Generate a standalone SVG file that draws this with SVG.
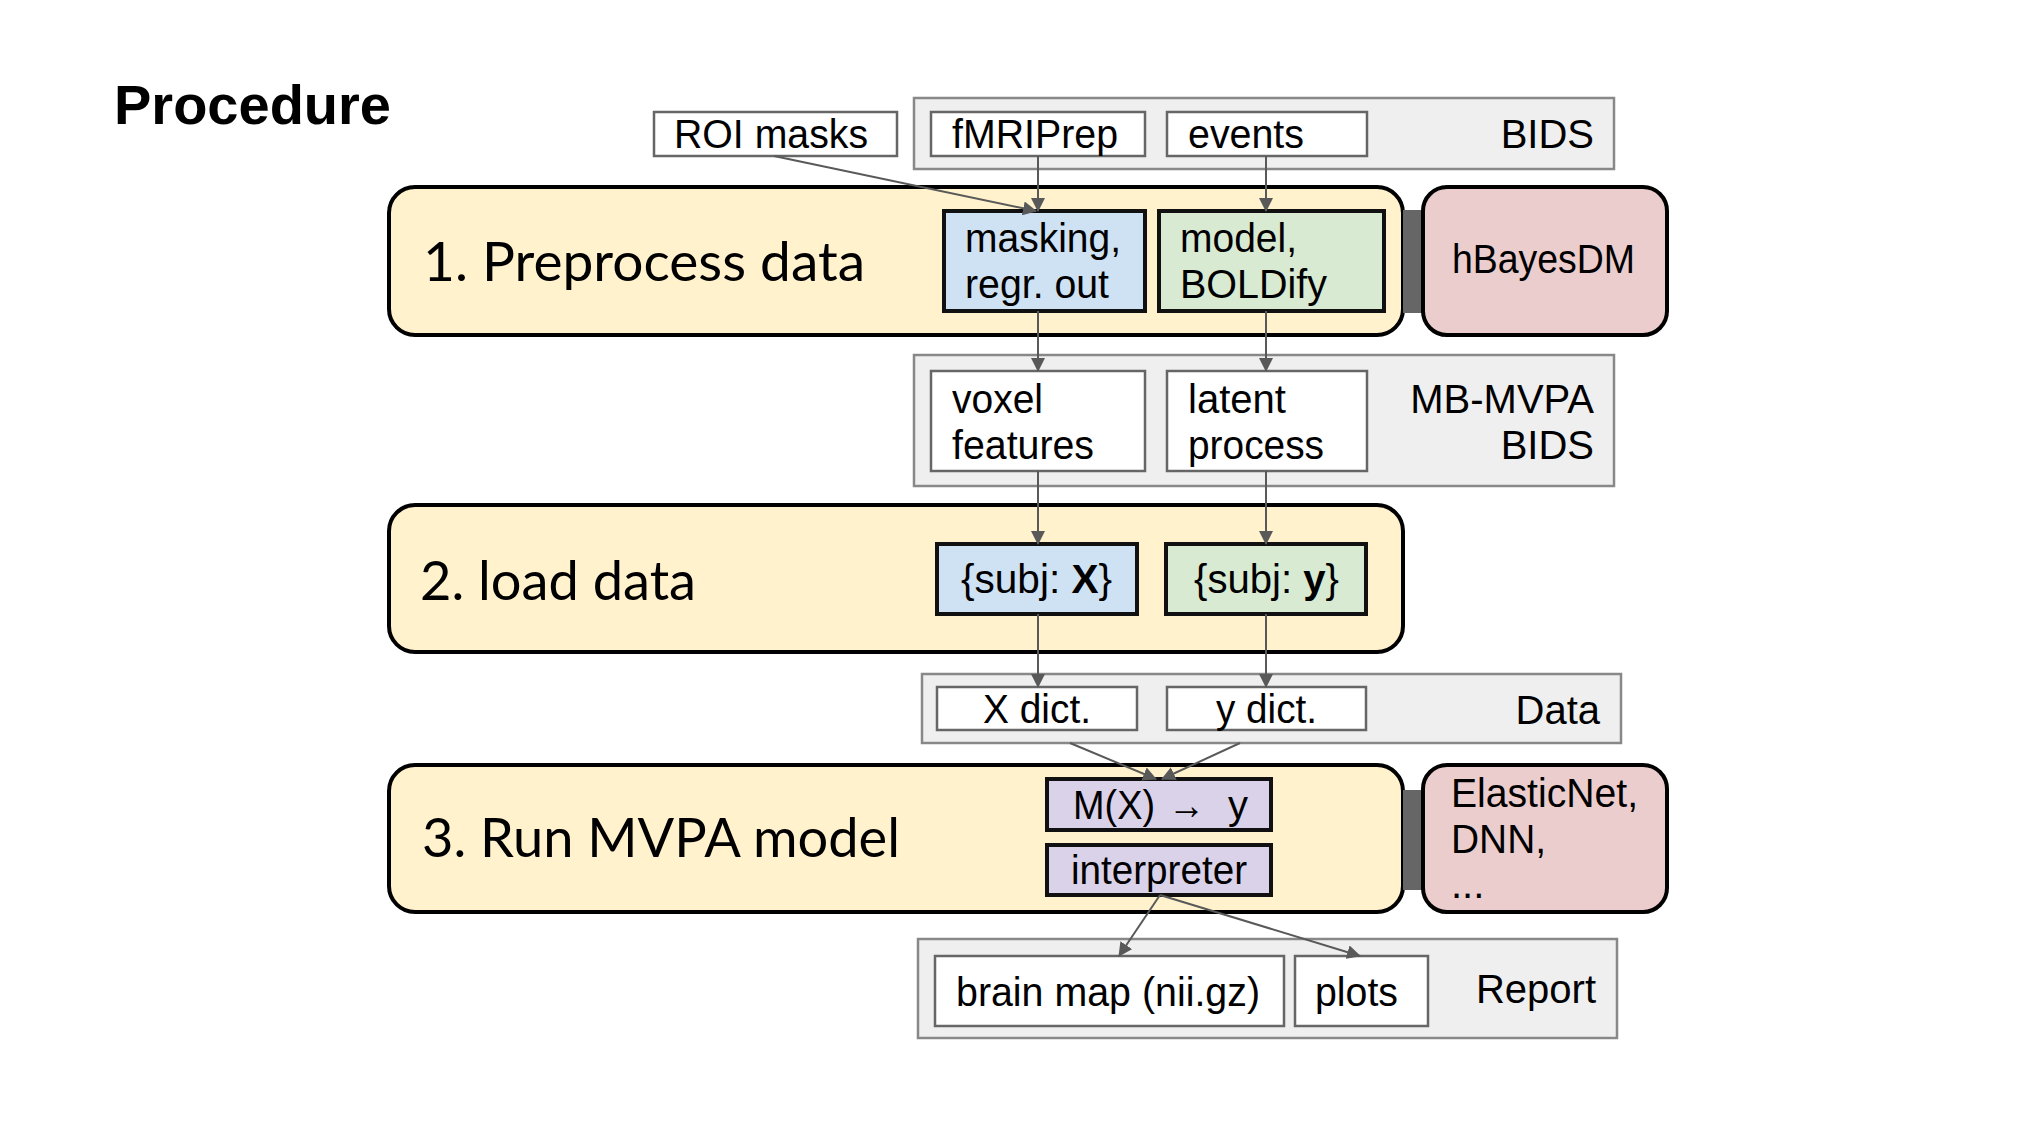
<svg xmlns="http://www.w3.org/2000/svg" width="2022" height="1132" viewBox="0 0 2022 1132">
<defs>
<marker id="ah" viewBox="0 0 14 14" refX="13" refY="7" markerWidth="14" markerHeight="14" markerUnits="userSpaceOnUse" orient="auto">
<path d="M0,0 L14,7 L0,14 Z" fill="#595959"/>
</marker>
<style>
.t{font-family:"Liberation Sans",Arial,sans-serif;font-size:40px;fill:#000}
.st{font-family:Lato,"Liberation Sans",sans-serif;font-size:55px;fill:#000}
.stage{fill:#fff2cc;stroke:#000;stroke-width:4}
.grp{fill:#efefef;stroke:#888;stroke-width:2.5}
.wb{fill:#fff;stroke:#666;stroke-width:2.5}
.blue{fill:#cfe2f3;stroke:#111;stroke-width:4}
.green{fill:#d9ead3;stroke:#111;stroke-width:4}
.purple{fill:#d9d2e9;stroke:#111;stroke-width:4}
.pink{fill:#eccdcd;stroke:#000;stroke-width:4}
.bar{fill:#666}
.c{stroke:#595959;stroke-width:2;fill:none;marker-end:url(#ah)}
</style>
</defs>
<rect width="2022" height="1132" fill="#fff"/>
<text x="114" y="124" font-family="Liberation Sans,Arial,sans-serif" font-weight="bold" font-size="56" fill="#000">Procedure</text>

<g id="roi-masks"><rect class="wb" x="654" y="112" width="243" height="44"/><text class="t" x="674" y="148" textLength="194" lengthAdjust="spacingAndGlyphs">ROI masks</text></g>

<g id="bids"><rect class="grp" x="914" y="98" width="700" height="71"/><text class="t" x="1594" y="148" text-anchor="end">BIDS</text>
<g id="fmriprep"><rect class="wb" x="931" y="112" width="214" height="44"/><text class="t" x="952" y="148" textLength="166" lengthAdjust="spacingAndGlyphs">fMRIPrep</text></g>
<g id="events"><rect class="wb" x="1167" y="112" width="200" height="44"/><text class="t" x="1188" y="148" textLength="116" lengthAdjust="spacingAndGlyphs">events</text></g>
</g>

<g id="stage1"><rect class="stage" x="389" y="187" width="1014" height="148" rx="26"/><text class="st" x="423" y="281" textLength="442" lengthAdjust="spacingAndGlyphs">1. Preprocess data</text>
<g id="masking"><rect class="blue" x="944" y="211" width="201" height="100"/><text class="t" x="965" y="252" textLength="156" lengthAdjust="spacingAndGlyphs">masking,</text><text class="t" x="965" y="298" textLength="144" lengthAdjust="spacingAndGlyphs">regr. out</text></g>
<g id="model"><rect class="green" x="1159" y="211" width="225" height="100"/><text class="t" x="1180" y="252" textLength="117" lengthAdjust="spacingAndGlyphs">model,</text><text class="t" x="1180" y="298" textLength="147" lengthAdjust="spacingAndGlyphs">BOLDify</text></g>
</g>
<rect class="bar" x="1403" y="210" width="20" height="103"/>
<g id="hbayesdm"><rect class="pink" x="1423" y="187" width="244" height="148" rx="24"/><text class="t" x="1452" y="273" textLength="183" lengthAdjust="spacingAndGlyphs">hBayesDM</text></g>

<g id="mbmvpa-bids"><rect class="grp" x="914" y="355" width="700" height="131"/><text class="t" x="1594" y="413" text-anchor="end">MB-MVPA</text><text class="t" x="1594" y="459" text-anchor="end">BIDS</text>
<g id="voxel"><rect class="wb" x="931" y="371" width="214" height="100"/><text class="t" x="952" y="413" textLength="91" lengthAdjust="spacingAndGlyphs">voxel</text><text class="t" x="952" y="459" textLength="142" lengthAdjust="spacingAndGlyphs">features</text></g>
<g id="latent"><rect class="wb" x="1167" y="371" width="200" height="100"/><text class="t" x="1188" y="413" textLength="98" lengthAdjust="spacingAndGlyphs">latent</text><text class="t" x="1188" y="459" textLength="136" lengthAdjust="spacingAndGlyphs">process</text></g>
</g>

<g id="stage2"><rect class="stage" x="389" y="505" width="1014" height="147" rx="26"/><text class="st" x="420" y="600" textLength="276" lengthAdjust="spacingAndGlyphs">2. load data</text>
<g id="subjX"><rect class="blue" x="937" y="544" width="200" height="70"/><text class="t" x="961" y="593" textLength="151" lengthAdjust="spacingAndGlyphs">{subj: <tspan font-weight="bold">X</tspan>}</text></g>
<g id="subjy"><rect class="green" x="1166" y="544" width="200" height="70"/><text class="t" x="1194" y="593" textLength="145" lengthAdjust="spacingAndGlyphs">{subj: <tspan font-weight="bold">y</tspan>}</text></g>
</g>

<g id="data"><rect class="grp" x="922" y="674" width="699" height="69"/><text class="t" x="1600" y="724" text-anchor="end">Data</text>
<g id="xdict"><rect class="wb" x="937" y="687" width="200" height="43"/><text class="t" x="983" y="723" textLength="108" lengthAdjust="spacingAndGlyphs">X dict.</text></g>
<g id="ydict"><rect class="wb" x="1167" y="687" width="199" height="43"/><text class="t" x="1216" y="723" textLength="101" lengthAdjust="spacingAndGlyphs">y dict.</text></g>
</g>

<g id="stage3"><rect class="stage" x="389" y="765" width="1014" height="147" rx="26"/><text class="st" x="422" y="857" textLength="478" lengthAdjust="spacingAndGlyphs">3. Run MVPA model</text>
<g id="mxy"><rect class="purple" x="1047" y="779" width="224" height="51"/><text class="t" y="819"><tspan x="1073" textLength="82" lengthAdjust="spacingAndGlyphs">M(X)</tspan><tspan x="1168" font-family="Liberation Serif,serif" font-size="40" textLength="37" lengthAdjust="spacingAndGlyphs">→</tspan><tspan x="1228">y</tspan></text></g>
<g id="interpreter"><rect class="purple" x="1047" y="845" width="224" height="50"/><text class="t" x="1071" y="884" textLength="176" lengthAdjust="spacingAndGlyphs">interpreter</text></g>
</g>
<rect class="bar" x="1403" y="790" width="20" height="100"/>
<g id="elasticnet"><rect class="pink" x="1423" y="765" width="244" height="147" rx="24"/><text class="t" x="1451" y="807" textLength="187" lengthAdjust="spacingAndGlyphs">ElasticNet,</text><text class="t" x="1451" y="853" textLength="95" lengthAdjust="spacingAndGlyphs">DNN,</text><text class="t" x="1451" y="898">...</text></g>

<g id="report"><rect class="grp" x="918" y="939" width="699" height="99"/><text class="t" x="1596" y="1003" text-anchor="end">Report</text>
<g id="brainmap"><rect class="wb" x="935" y="956" width="349" height="70"/><text class="t" x="956" y="1006" textLength="304" lengthAdjust="spacingAndGlyphs">brain map (nii.gz)</text></g>
<g id="plots"><rect class="wb" x="1295" y="956" width="133" height="70"/><text class="t" x="1315" y="1006" textLength="83" lengthAdjust="spacingAndGlyphs">plots</text></g>
</g>

<g id="connectors">
<path class="c" d="M774,156 L1036,211"/>
<path class="c" d="M1038,156 L1038,211"/>
<path class="c" d="M1266,156 L1266,211"/>
<path class="c" d="M1038,311 L1038,371"/>
<path class="c" d="M1266,311 L1266,371"/>
<path class="c" d="M1038,471 L1038,544"/>
<path class="c" d="M1266,471 L1266,544"/>
<path class="c" d="M1038,614 L1038,687"/>
<path class="c" d="M1266,614 L1266,687"/>
<path class="c" d="M1070,743 L1156,779"/>
<path class="c" d="M1240,743 L1162,779"/>
<path class="c" d="M1160,895 L1119,956"/>
<path class="c" d="M1160,895 L1360,956"/>
</g>
</svg>
